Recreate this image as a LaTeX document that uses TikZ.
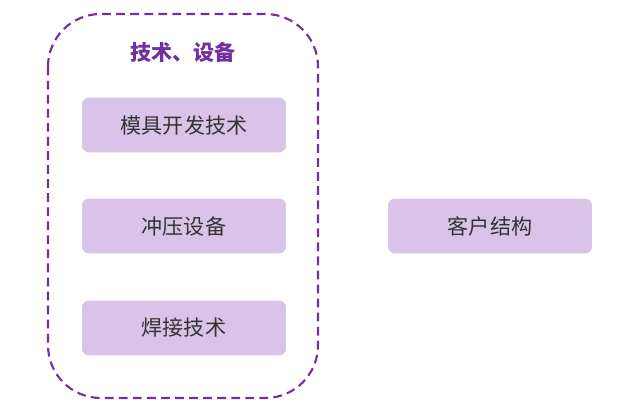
\documentclass[tikz,border=0pt]{standalone}
\usepackage{fontspec}
\newfontfamily\cjk{Noto Sans CJK SC}
\definecolor{boxfill}{HTML}{D9C3E9}
\definecolor{framepurple}{HTML}{7030A0}
\begin{document}
\begin{tikzpicture}[x=0.02cm, y=-0.02cm, font=\cjk\large,
  itembox/.style={fill=boxfill, rounded corners=4pt, minimum width=4.08cm, minimum height=1.1cm, text=black!80}]
\useasboundingbox (0,0) rectangle (633,408);
\draw[framepurple, dash pattern=on 5pt off 3pt, line width=1.2pt, rounded corners=30pt] (48,14) rectangle (318,398);
\node[text=framepurple, font=\cjk\large\bfseries] (title) at (183,52) {技术、设备};
\node[itembox] (mold) at (184,125) {模具开发技术};
\node[itembox] (press) at (184,226) {冲压设备};
\node[itembox] (weld) at (184,328) {焊接技术};
\node[itembox] (client) at (490,226) {客户结构};
\end{tikzpicture}
\end{document}
